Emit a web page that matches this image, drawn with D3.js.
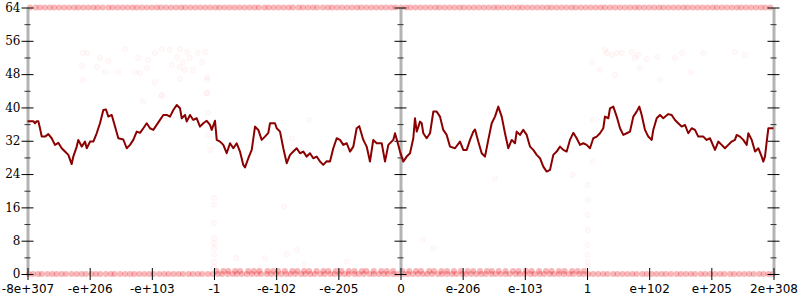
<html>

<head>
    <style>
        body { margin: 0; background: white; }
        .ylab text { font-family: "DejaVu Serif", serif; font-size: 12px; fill: black; }
        .xlab text { font-family: "DejaVu Sans", sans-serif; font-size: 12px; fill: black; }
    </style>
</head>

<body>
    <svg id="container" height="300" width="800">
        <g id="body"></g>
    </svg>
</body>
<script src="https://cdn.jsdelivr.net/npm/d3@7"></script>
<script>
    // tick labels on the x axis (bit pattern order of doubles)
    let xTicks = [-6, -5, -4, -3, -2, -1, 0, 1, 2, 3, 4, 5, 6]
    let xLabels = ["-8e+307", "-e+206", "-e+103", "-1", "-e-102", "-e-205", "0",
                   "e-206", "e-103", "1", "e+102", "e+205", "2e+308"]
    let yMajor = [0, 8, 16, 24, 32, 40, 48, 56, 64]
    let yMinor = [4, 12, 20, 28, 36, 44, 52, 60]

    // running average line
    let lineX = [-6.0, -5.906, -5.879, -5.852, -5.826, -5.799, -5.771, -5.718, -5.665, -5.611, -5.558, -5.504, -5.45, -5.397, -5.343, -5.305, -5.289, -5.263, -5.208, -5.183, -5.128, -5.075, -5.047, -4.994, -4.941, -4.887, -4.834, -4.78, -4.737, -4.7, -4.645, -4.592, -4.539, -4.459, -4.404, -4.351, -4.298, -4.243, -4.19, -4.137, -4.082, -4.029, -3.976, -3.922, -3.868, -3.815, -3.761, -3.708, -3.654, -3.6, -3.547, -3.519, -3.466, -3.439, -3.386, -3.333, -3.278, -3.225,
        -3.172, -3.117, -3.064, -3.037, -2.984, -2.956, -2.903, -2.85, -2.796, -2.742, -2.689, -2.635, -2.582, -2.529, -2.501, -2.448, -2.393, -2.34, -2.287, -2.233, -2.18, -2.126, -2.099, -2.019, -1.991, -1.938, -1.885, -1.83, -1.777, -1.724, -1.67, -1.617, -1.563, -1.509, -1.456, -1.403, -1.348, -1.295, -1.242, -1.187, -1.134, -1.081, -1.026, -0.973, -0.92, -0.865, -0.812, -0.759, -0.705, -0.663, -0.598, -0.544, -0.491, -0.438, -0.383, -0.302, -0.249, -0.196, -0.116, -0.088, -0.035, -0.008,
        0.045, 0.1, 0.153, 0.206, 0.233, 0.261, 0.314, 0.341, 0.367, 0.421, 0.475, 0.528, 0.582, 0.635, 0.688, 0.743, 0.796, 0.877, 0.957, 1.01, 1.065, 1.118, 1.171, 1.199, 1.251, 1.306, 1.359, 1.412, 1.467, 1.52, 1.573, 1.628, 1.681, 1.734, 1.789, 1.842, 1.869, 1.922, 1.975, 2.03, 2.083, 2.136, 2.191, 2.244, 2.297, 2.352, 2.405, 2.458, 2.512, 2.566, 2.619, 2.673, 2.726, 2.78, 2.834, 2.887, 2.94, 2.995, 3.048, 3.101, 3.156, 3.209,
        3.262, 3.289, 3.343, 3.37, 3.423, 3.478, 3.531, 3.584, 3.638, 3.692, 3.745, 3.799, 3.841, 3.88, 3.933, 3.986, 4.041, 4.066, 4.121, 4.174, 4.227, 4.308, 4.362, 4.415, 4.468, 4.523, 4.576, 4.629, 4.684, 4.737, 4.79, 4.871, 4.925, 4.978, 5.059, 5.112, 5.166, 5.219, 5.273, 5.327, 5.38, 5.408, 5.461, 5.514, 5.569, 5.595, 5.65, 5.703, 5.756, 5.81, 5.836, 5.863, 5.891, 5.917, 6.0]
    let lineY = [36.7, 36.7, 36.2, 36.7, 36.7, 35.0, 33.0, 33.0, 33.6, 32.6, 31.0, 31.5, 30.2, 29.4, 28.6, 27.0, 26.4, 28.2, 30.6, 32.2, 30.6, 31.8, 30.2, 31.8, 31.8, 33.8, 36.2, 39.4, 39.5, 37.8, 38.2, 35.4, 32.6, 32.3, 30.2, 31.0, 32.2, 34.2, 33.9, 35.0, 36.2, 35.0, 34.6, 35.8, 37.0, 38.2, 38.2, 37.8, 39.4, 40.6, 39.8, 37.4, 38.2, 36.6, 38.2, 37.0, 37.4, 35.4,
        36.2, 36.8, 35.8, 34.6, 36.8, 32.2, 31.8, 31.0, 29.0, 31.4, 30.2, 31.4, 29.4, 26.2, 25.6, 27.8, 29.8, 35.4, 34.6, 32.2, 33.0, 33.9, 36.2, 36.2, 35.0, 34.2, 30.2, 26.6, 28.6, 29.4, 30.2, 29.0, 29.4, 28.2, 29.0, 27.8, 28.2, 27.0, 26.2, 27.1, 27.0, 30.2, 32.6, 32.2, 31.0, 31.4, 29.4, 30.6, 35.0, 35.5, 32.2, 30.6, 27.0, 32.2, 31.4, 31.4, 27.0, 31.0, 32.2, 33.8, 31.0, 29.4,
        27.0, 28.2, 29.0, 32.6, 37.4, 34.2, 36.6, 36.2, 33.8, 32.6, 33.8, 39.0, 39.0, 37.8, 34.6, 33.4, 30.6, 30.2, 31.8, 29.8, 29.8, 32.2, 34.2, 34.7, 31.8, 29.0, 28.2, 32.2, 36.2, 37.8, 40.2, 37.8, 33.8, 30.2, 32.2, 31.4, 34.2, 33.4, 34.6, 33.4, 30.6, 29.8, 28.6, 27.8, 25.8, 24.6, 25.0, 28.6, 29.4, 30.6, 29.8, 29.4, 32.2, 33.9, 32.6, 31.0, 31.4, 31.0, 30.2, 32.6, 33.0, 33.8,
        35.0, 37.8, 37.4, 39.8, 40.2, 37.8, 35.0, 33.4, 33.8, 34.2, 37.8, 39.0, 40.2, 38.2, 34.6, 33.0, 32.2, 34.6, 37.4, 38.2, 37.4, 38.4, 38.2, 37.0, 36.2, 35.4, 35.8, 33.8, 35.0, 34.6, 33.0, 33.0, 32.2, 32.6, 29.8, 31.8, 31.0, 30.2, 31.0, 31.8, 32.2, 33.4, 33.0, 32.2, 31.0, 33.8, 32.2, 29.4, 30.2, 28.2, 27.0, 28.2, 31.8, 35.0, 35.0]

    // samples piled on the 64 and 0 rows
    let topRowX = [-5.96, -5.87, -5.8, -5.72, -5.64, -5.57, -5.49, -5.41, -5.33, -5.25, -5.18, -5.1, -5.02, -4.94, -4.87, -4.79, -4.7, -4.63, -4.55, -4.47, -4.39, -4.31, -4.24, -4.16, -4.08, -4.0, -3.92, -3.85, -3.77, -3.69, -3.61, -3.53, -3.46, -3.38, -3.3, -3.22, -3.14, -3.06, -2.98, -2.91, -2.83, -2.75, -2.67, -2.59, -2.51, -2.43, -2.35, -2.28, -2.19, -2.12, -2.04, -1.96, -1.88, -1.8, -1.73, -1.64, -1.57, -1.49, -1.41, -1.34, -1.25, -1.17, -1.1, -1.02, -0.94, -0.86, -0.78, -0.7, -0.63, -0.55, -0.47, -0.39, -0.31, -0.23, -0.15, -0.08, 0.01, 0.09, 0.16, 0.24, 0.32, 0.4, 0.48, 0.56, 0.63, 0.71, 0.79, 0.87, 0.95, 1.02, 1.1, 1.18, 1.26, 1.34, 1.42, 1.5, 1.57, 1.65, 1.73, 1.81, 1.89, 1.96, 2.04, 2.12, 2.2, 2.28, 2.36, 2.43, 2.51, 2.59, 2.67, 2.75, 2.82, 2.9, 2.98, 3.06, 3.14, 3.22, 3.29, 3.37, 3.45, 3.53, 3.61, 3.69, 3.77, 3.84, 3.92, 4.0, 4.08, 4.16, 4.23, 4.31, 4.39, 4.47, 4.55, 4.62, 4.7, 4.78, 4.86, 4.94, 5.02, 5.09, 5.17, 5.25, 5.33, 5.41, 5.48, 5.56, 5.64, 5.72, 5.8, 5.87, 5.95]
    let bottomRowX = [-5.98, -5.91, -5.83, -5.77, -5.68, -5.6, -5.53, -5.45, -5.38, -5.29, -5.21, -5.13, -5.06, -4.97, -4.9, -4.83, -4.74, -4.66, -4.6, -4.51, -4.43, -4.35, -4.28, -4.2, -4.12, -4.04, -3.97, -3.88, -3.8, -3.73, -3.65, -3.57, -3.5, -3.41, -3.34, -3.26, -3.19, -3.1, -3.02, -2.94, -2.87, -2.78, -2.7, -2.63, -2.55, -2.47, -2.39, -2.31, -2.24, -2.15, -2.08, -2.0, -1.92, -1.84, -1.77, -1.69, -1.6, -1.53, -1.45, -1.38, -1.29, -1.22, -1.13, -1.06, -0.98, -0.9, -0.83, -0.74, -0.67, -0.59, -0.5, -0.43, -0.35, -0.27, -0.2, -0.11, -0.04, 0.05, 0.12, 0.2, 0.28, 0.36, 0.43, 0.51, 0.6, 0.67, 0.75, 0.83, 0.9, 0.99, 1.06, 1.14, 1.22, 1.3, 1.37, 1.46, 1.53, 1.61, 1.69, 1.76, 1.85, 1.92, 2.0, 2.09, 2.16, 2.24, 2.31, 2.4, 2.47, 2.55, 2.63, 2.71, 2.78, 2.87, 2.94, 3.02, 3.1, 3.18, 3.26, 3.33, 3.42, 3.49, 3.57, 3.65, 3.73, 3.8, 3.89, 3.96, 4.04, 4.12, 4.2, 4.27, 4.35, 4.44, 4.51, 4.59, 4.67, 4.74, 4.83, 4.9, 4.98, 5.06, 5.14, 5.21, 5.3, 5.37, 5.45, 5.53, 5.61, 5.68, 5.77, 5.84, 5.92, 5.99]
    let lowRowX = [-2.96, -2.85, -2.77, -2.66, -2.58, -2.45, -2.36, -2.27, -2.14, -2.05, -1.97, -1.86, -1.74, -1.66, -1.55, -1.47, -1.35, -1.24, -1.16, -1.04, -0.95, -0.83, -0.74, -0.62, -0.55, -0.43, -0.31, -0.22, -0.12, 0.03, 0.14, 0.25, 0.33, 0.46, 0.54, 0.66, 0.75, 0.86, 0.97, 1.08, 1.17, 1.28, 1.39, 1.47, 1.58, 1.69, 1.81, 1.9, 2.02, 2.11, 2.23, 2.34, 2.43, 2.55, 2.64, 2.76, 2.85, 2.95]

    // scattered samples
    let scatterX = [-5.11, -5.04, -4.43, -4.83, -4.70, -4.22, -4.06, -3.95, -3.84, -3.71, -3.55, -3.43, -3.26, -3.14, -3.59, -3.50, -3.39, -3.68, -3.55, -5.12, -4.88, -4.75, -4.54, -4.27, -4.19, -4.08, -3.47, -3.34, -3.19, -5.12, -3.95, -3.55, -3.11, -3.11, -3.84, -3.11, -4.14, -3.84,
        -3.12, -3.10, -3.10, -3.06, -1.46, -1.75,
        -3.0, -3.0, -3.0, -3.0, -3.0, -3.0, -3.0, -3.0, -3.0,
        3.01, 3.01, 3.01, 3.01, 3.01, 3.01, 3.01, 3.01,
        -1.87, -1.67, -1.83, -2.64, -1.55, -0.87, -2.26, -2.18, 0.36, 0.53,
        3.09, 3.09, 2.77, 1.52, 0.84,
        3.29, 3.32, 3.40, 3.48, 3.56, 3.72, 3.82, 3.77, 4.13, 4.53, 4.87, 5.38, 5.54, 4.41, 3.96, 3.08, 3.21, 3.45, 3.85, 4.17, 4.66]
    let scatterY = [53.1, 53.1, 54.0, 51.9, 51.2, 51.9, 51.4, 53.1, 54.0, 53.8, 54.0, 53.3, 53.1, 53.3, 52.1, 50.9, 51.9, 50.2, 49.7, 50.0, 49.7, 48.5, 48.5, 48.5, 48.3, 49.5, 49.0, 49.0, 50.9, 46.6, 46.1, 46.8, 47.3, 46.6, 43.0, 43.5, 41.4, 42.8,
        43.4, 38.7, 33.4, 29.8, 37.0, 32.6,
        18.3, 16.6, 12.2, 8.6, 7.4, 6.2, 4.6, 2.9, 1.7,
        21.4, 17.8, 14.2, 10.6, 7.0, 4.6, 2.9, 1.7,
        16.2, 5.8, 4.8, 3.8, 2.4, 3.0, 1.4, 3.8, 8.2, 6.2,
        37.0, 27.0, 23.8, 23.0, 31.8,
        53.8, 53.1, 52.6, 53.1, 53.1, 53.3, 52.6, 51.9, 52.1, 53.1, 53.1, 53.3, 52.6, 51.9, 51.6, 50.9, 49.0, 47.8, 49.5, 46.6, 48.5]

    let body = d3.select("#body")

    let x = d3.scaleLinear().domain([-6, 6]).range([27.5, 773.5])
    let y = d3.scaleLinear().domain([0, 64]).range([274, 7.5])

    // dots
    let rows = []
    topRowX.forEach(v => rows.push([v, 64]))
    bottomRowX.forEach(v => rows.push([v, 0]))
    lowRowX.forEach(v => rows.push([v, 0.7]))

    body.append("g").selectAll("circle").data(rows)
        .enter().append("circle")
        .attr("cx", d => x(d[0]))
        .attr("cy", d => y(d[1]))
        .attr("r", 3)
        .attr("fill", "#e8141c")
        .attr("fill-opacity", 0.3)
        .attr("stroke", "none")

    body.append("g").selectAll("circle").data(scatterX)
        .enter().append("circle")
        .attr("cx", d => x(d))
        .attr("cy", (d, i) => y(scatterY[i]))
        .attr("r", 2.6)
        .attr("fill", "red")
        .attr("fill-opacity", 0.02)
        .attr("stroke", "red")
        .attr("stroke-opacity", 0.045)

    // y axes: left with labels, middle and right without
    function yAxis(pos, labels) {
        let g = body.append("g").attr("transform", "translate(" + pos + ",0)")
        let major = g.append("g").attr("class", "ylab")
            .call(d3.axisLeft(y).tickValues(yMajor).tickSize(6).tickSizeOuter(0)
                .tickFormat(labels ? d3.format("d") : ""))
        major.select(".domain").attr("stroke", "#b4b4b4").attr("stroke-width", 3)
        major.selectAll(".tick line").attr("x1", 6).attr("stroke", "black")
        major.selectAll(".tick text").attr("x", -7)
        let minor = g.append("g")
            .call(d3.axisLeft(y).tickValues(yMinor).tickSize(3).tickSizeOuter(0).tickFormat(""))
        minor.select(".domain").remove()
        minor.selectAll(".tick line").attr("x1", 3).attr("stroke", "#333")
    }
    yAxis(x(-6), true)
    yAxis(x(0), false)
    yAxis(x(6), false)

    // x axis
    let xg = body.append("g").attr("class", "xlab")
        .attr("transform", "translate(0," + y(0) + ")")
        .call(d3.axisBottom(x).tickValues(xTicks).tickSize(6).tickSizeOuter(0)
            .tickFormat((d, i) => xLabels[i]))
    xg.select(".domain").remove()
    xg.selectAll(".tick line").attr("y1", -6).attr("stroke", "black")
    xg.selectAll(".tick text").attr("y", 10)

    // average line
    let line = d3.line()
        .x(d => x(d))
        .y((d, i) => y(lineY[i]))

    body.append("path")
        .attr("d", line(lineX))
        .attr("fill", "none")
        .attr("stroke", "#8b0000")
        .attr("stroke-width", 2)
        .attr("stroke-linejoin", "round")
</script>

</html>
